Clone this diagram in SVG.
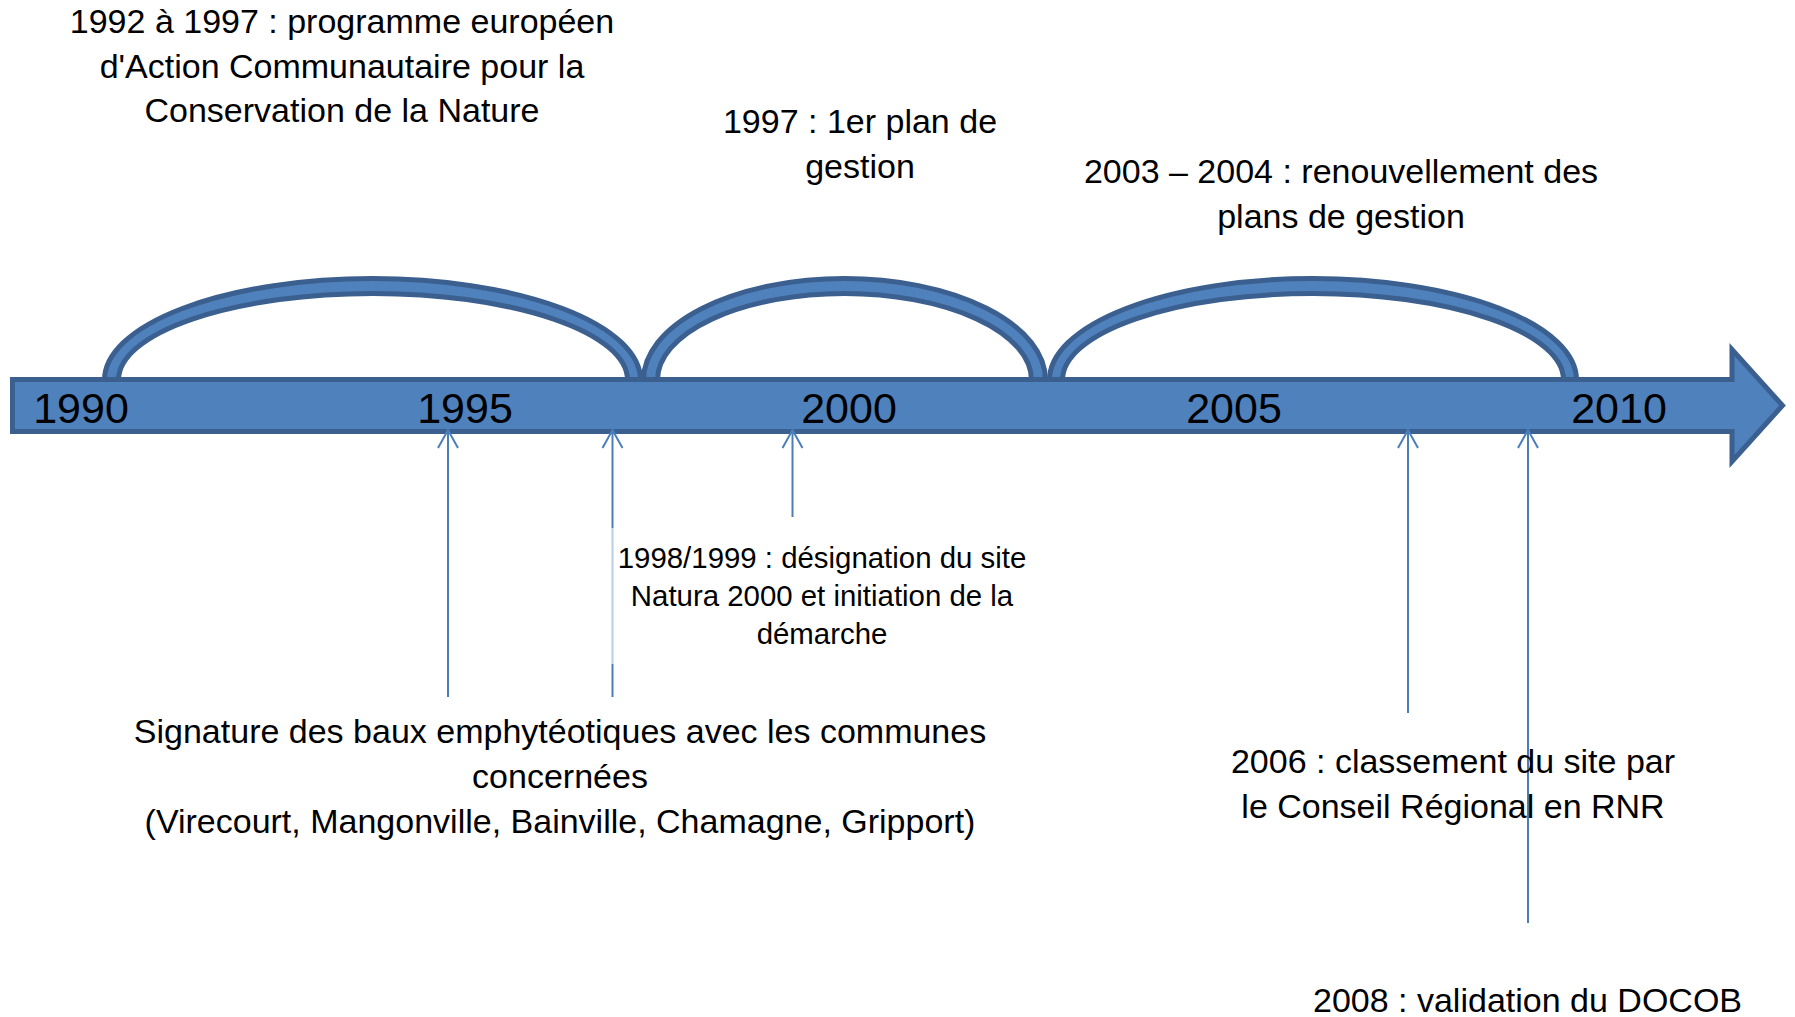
<svg xmlns="http://www.w3.org/2000/svg" width="1795" height="1017" viewBox="0 0 1795 1017">
<style>
.t{font-family:"Liberation Sans",Arial,sans-serif;fill:#000;text-anchor:middle}
.big{font-size:34px}
.small{font-size:29.4px}
.yr{font-family:"Liberation Sans",Arial,sans-serif;font-size:43px;fill:#000;text-anchor:middle}
.shape{fill:#4F81BD;stroke:#3B6090;stroke-width:5;stroke-linejoin:miter}
.con{fill:none;stroke:#4A7EBB;stroke-width:2}
.faint{fill:none;stroke:#B9CDE5;stroke-width:2}
</style>
<defs>
<marker id="ah" markerUnits="userSpaceOnUse" viewBox="-22 -12 24 24" markerWidth="24" markerHeight="24" refX="0" refY="0" orient="auto" overflow="visible">
<path d="M-18,-10 L0,0 L-18,10" fill="none" stroke="#4A7EBB" stroke-width="2"/>
</marker>
</defs>
<rect width="1795" height="1017" fill="#fff"/>

<g id="arcs">
<path id="arc1" class="shape" d="M104.5,390 L104.5,380 A268 101.5 0 0 1 640.5,380 L640.5,390 L627.5,390 L627.5,380 A254.5 86.5 0 0 0 118.5,380 L118.5,390 Z"/>
<path id="arc2" class="shape" d="M643.5,390 L643.5,380 A201 101.5 0 0 1 1045.5,380 L1045.5,390 L1031.5,390 L1031.5,380 A187 86.5 0 0 0 657.5,380 L657.5,390 Z"/>
<path id="arc3" class="shape" d="M1049.5,390 L1049.5,380 A263.5 101.5 0 0 1 1576.5,380 L1576.5,390 L1563.5,390 L1563.5,380 A250.5 86.5 0 0 0 1062.5,380 L1062.5,390 Z"/>
</g>

<g id="timeline">
<path class="shape" d="M12.5,379.5 L1732,379.5 L1732,349.5 L1782.5,405.5 L1732,461.5 L1732,431.5 L12.5,431.5 Z"/>
<text class="yr" x="81" y="423">1990</text>
<text class="yr" x="465" y="423">1995</text>
<text class="yr" x="849" y="423">2000</text>
<text class="yr" x="1234" y="423">2005</text>
<text class="yr" x="1619" y="423">2010</text>
</g>

<g id="connectors">
<line class="con" x1="448" y1="697" x2="448" y2="430" marker-end="url(#ah)"/>
<line class="con" x1="612.5" y1="697" x2="612.5" y2="664"/>
<line class="faint" x1="612.5" y1="664" x2="612.5" y2="528"/>
<line class="con" x1="612.5" y1="528" x2="612.5" y2="430" marker-end="url(#ah)"/>
<line class="con" x1="792.5" y1="517" x2="792.5" y2="430" marker-end="url(#ah)"/>
<line class="con" x1="1408" y1="713" x2="1408" y2="430" marker-end="url(#ah)"/>
<line class="con" x1="1528" y1="923" x2="1528" y2="430" marker-end="url(#ah)"/>
</g>

<g id="label-1992">
<text class="t big" x="342" y="33">1992 à 1997 : programme européen</text>
<text class="t big" x="342" y="77.6">d'Action Communautaire pour la</text>
<text class="t big" x="342" y="122.2">Conservation de la Nature</text>
</g>
<g id="label-1997">
<text class="t big" x="860" y="133">1997 : 1er plan de</text>
<text class="t big" x="860" y="177.6">gestion</text>
</g>
<g id="label-2003">
<text class="t big" x="1341" y="183">2003 – 2004 : renouvellement des</text>
<text class="t big" x="1341" y="227.6">plans de gestion</text>
</g>
<g id="label-1998">
<text class="t small" x="822" y="568">1998/1999 : désignation du site</text>
<text class="t small" x="822" y="606">Natura 2000 et initiation de la</text>
<text class="t small" x="822" y="644">démarche</text>
</g>
<g id="label-baux">
<text class="t big" x="560" y="743">Signature des baux emphytéotiques avec les communes</text>
<text class="t big" x="560" y="788">concernées</text>
<text class="t big" x="560" y="833">(Virecourt, Mangonville, Bainville, Chamagne, Gripport)</text>
</g>
<g id="label-2006">
<text class="t big" x="1453" y="773">2006 : classement du site par</text>
<text class="t big" x="1453" y="817.6">le Conseil Régional en RNR</text>
</g>
<g id="label-2008">
<text class="t big" x="1527.5" y="1012">2008 : validation du DOCOB</text>
</g>
</svg>
